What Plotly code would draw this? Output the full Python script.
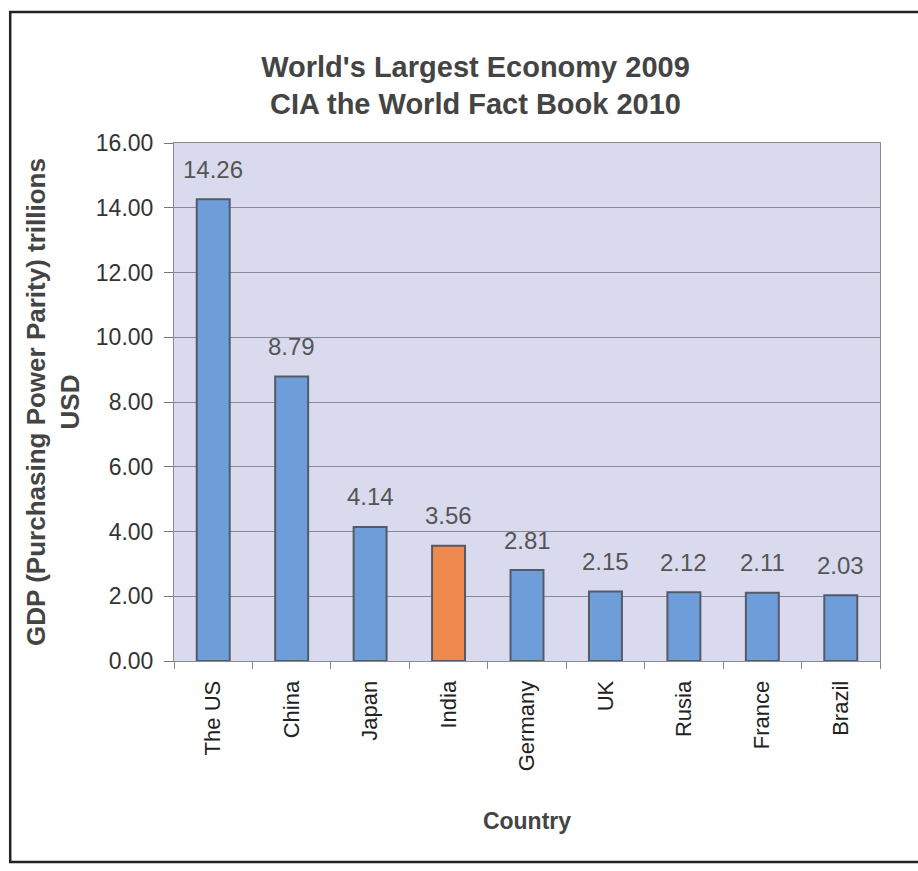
import plotly.graph_objects as go

countries = ["The US", "China", "Japan", "India", "Germany", "UK", "Rusia", "France", "Brazil"]
gdp = [14.26, 8.79, 4.14, 3.56, 2.81, 2.15, 2.12, 2.11, 2.03]
bar_colors = ["#6d9ed9", "#6d9ed9", "#6d9ed9", "#ee8a4e", "#6d9ed9", "#6d9ed9", "#6d9ed9", "#6d9ed9", "#6d9ed9"]
y_ticks = [0, 2, 4, 6, 8, 10, 12, 14, 16]

fig = go.Figure()
fig.add_trace(go.Bar(
    x=countries, y=gdp,
    marker=dict(color=bar_colors, line=dict(color="#555a66", width=2)),
    width=0.42,
))

for c, v in zip(countries, gdp):
    fig.add_annotation(
        x=c, y=v, text=f"{v:.2f}", showarrow=False,
        yanchor="middle", yshift=30,
        font=dict(family="Liberation Sans, Arial", size=24, color="#555555"),
    )

fig.update_layout(
    width=918, height=871,
    paper_bgcolor="white",
    plot_bgcolor="#dadaee",
    margin=dict(l=174, r=38, t=143, b=210),
    showlegend=False,
    title=dict(
        text="World's Largest Economy 2009<br>CIA the World Fact Book 2010",
        x=0.518, xanchor="center", y=0.912, yanchor="middle",
        font=dict(family="Liberation Sans, Arial", size=29, color="#444444", weight="bold"),
    ),
    font=dict(family="Liberation Sans, Arial", color="#333333"),
    shapes=[dict(type="rect", xref="paper", yref="paper",
                 x0=-0.232, x1=1.1, y0=-0.388, y1=1.253,
                 line=dict(color="#222222", width=2.5), layer="below")],
)

fig.update_yaxes(
    range=[0, 16], tickvals=y_ticks, ticktext=[f"{v:.2f}" for v in y_ticks],
    tickfont=dict(size=23, color="#333333"),
    showgrid=True, gridcolor="#8a8a96", gridwidth=1,
    ticks="outside", ticklen=9, tickcolor="#777777",
    ticklabelstandoff=6,
    showline=True, linecolor="#8a8a96", mirror=True,
    title=dict(text="GDP (Purchasing Power Parity) trillions<br>USD",
               font=dict(size=26, color="#444444", weight="bold"), standoff=8),
    zeroline=False,
)
fig.update_xaxes(
    tickangle=-90,
    tickfont=dict(size=22, color="#222222"),
    showline=True, linecolor="#8a8a96", mirror=True,
    ticks="outside", ticklen=7, tickcolor="#888888", tickson="boundaries",
    ticklabelstandoff=10,
    title=dict(text="Country", font=dict(size=23, color="#444444", weight="bold"), standoff=42),
)

fig.write_html("out.html")
